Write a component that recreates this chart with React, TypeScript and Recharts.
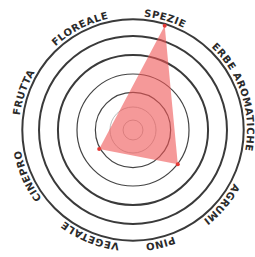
import { RadarChart, Radar, PolarGrid, PolarAngleAxis, PolarRadiusAxis } from "recharts";

// aroma wheel labels, placed around the circle (degrees clockwise from top)
const categories = ["SPEZIE", "ERBE AROMATICHE", "AGRUMI", "PINO", "VEGETALE", "CINEPRO", "FRUTTA", "FLOREALE"];
const labelAngles = [16, 72, 130, 166.5, 202, 246.5, 289, 332.5];

// profile points (angle + intensity 0-100)
const pointNames = ["SPEZIE", "AGRUMI", "CINEPRO"];
const pointAngles = [16.9, 127.5, 240.8];
const pointValues = [98.5, 51, 35];

// ring levels on the 0-100 scale
const outerRings = [67.8, 84.9, 100];
const midRings = [34, 50.6];
const innerRings = [9, 20.8];

const CX = 133;
const CY = 130;
const OUTER = 110.7;
const LABEL_R = 114;

const chartData = pointNames.map((name, i) => ({
  name,
  angle: pointAngles[i],
  value: pointValues[i],
}));

const toPx = (levels: number[]) => levels.map((v) => (v / 100) * OUTER);

const pt = (deg: number, r: number) => {
  const a = (deg * Math.PI) / 180;
  return [CX + r * Math.sin(a), CY - r * Math.cos(a)];
};

const CurvedTick = (props: any) => {
  const { payload } = props;
  const a = payload.value;
  const idx = labelAngles.indexOf(a);
  const label = idx >= 0 ? categories[idx] : "";
  const [x0, y0] = pt(a - 80, LABEL_R);
  const [x1, y1] = pt(a + 80, LABEL_R);
  const id = `arc-${idx}`;
  return (
    <g>
      <path id={id} d={`M ${x0} ${y0} A ${LABEL_R} ${LABEL_R} 0 0 1 ${x1} ${y1}`} fill="none" stroke="none" />
      <text fontFamily="'DejaVu Sans', sans-serif" fontSize={10} fontWeight={600} letterSpacing={0.5} fill="#2a2a2a">
        <textPath href={`#${id}`} startOffset="50%" textAnchor="middle">
          {label}
        </textPath>
      </text>
    </g>
  );
};

export default function App() {
  return (
    <div style={{ position: "absolute", left: 0, top: 0, background: "#fff" }}>
      <RadarChart
        width={255}
        height={257}
        data={chartData}
        cx={CX}
        cy={CY}
        outerRadius={OUTER}
        startAngle={90}
        endAngle={-270}
        margin={{ top: 0, right: 0, bottom: 0, left: 0 }}
      >
        <PolarGrid gridType="circle" radialLines={false} polarAngles={[]} polarRadius={toPx(innerRings)} stroke="#aaa" strokeWidth={0.8} />
        <PolarGrid gridType="circle" radialLines={false} polarAngles={[]} polarRadius={toPx(midRings)} stroke="#444" strokeWidth={1.2} />
        <PolarGrid gridType="circle" radialLines={false} polarAngles={[]} polarRadius={toPx(outerRings)} stroke="#3a3a3a" strokeWidth={2} />
        <PolarAngleAxis
          dataKey="angle"
          type="number"
          domain={[0, 360]}
          ticks={labelAngles}
          tick={<CurvedTick />}
          axisLine={false}
          tickLine={false}
        />
        <PolarRadiusAxis domain={[0, 100]} tick={false} axisLine={false} />
        <Radar
          dataKey="value"
          fill="#ee5555"
          fillOpacity={0.6}
          stroke="none"
          dot={{ r: 2, fill: "#e53935", stroke: "none", fillOpacity: 1 }}
          isAnimationActive={false}
        />
      </RadarChart>
    </div>
  );
}
